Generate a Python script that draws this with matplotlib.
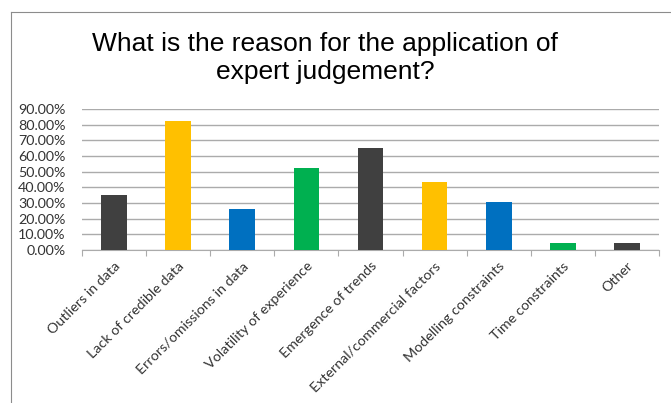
import matplotlib.pyplot as plt
from matplotlib.ticker import PercentFormatter, FixedLocator
import matplotlib.lines as mlines

categories = ["Outliers in data", "Lack of credible data", "Errors/omissions in data",
              "Volatility of experience", "Emergence of trends", "External/commercial factors",
              "Modelling constraints", "Time constraints", "Other"]
values = [0.348, 0.826, 0.261, 0.522, 0.652, 0.435, 0.304, 0.043, 0.043]
colors = ["#404040", "#FFC000", "#0070C0", "#00B050", "#404040",
          "#FFC000", "#0070C0", "#00B050", "#404040"]

fig = plt.figure(figsize=(6.71, 4.03), dpi=100)
ax = fig.add_axes([82/671, 1-250/403, 577/671, 141/403])

x = list(range(len(categories)))
ax.bar(x, values, width=0.4, color=colors, zorder=3)

ax.set_xlim(-0.5, len(categories) - 0.5)
ax.set_ylim(0, 0.9)
ax.set_yticks([i / 10 for i in range(10)])
ax.yaxis.set_major_formatter(PercentFormatter(1.0, decimals=2))
ax.grid(axis="y", color="#ABABAB", linewidth=1, zorder=0)
ax.tick_params(axis="y", length=0, labelsize=10.3, pad=12)
for lbl in ax.get_yticklabels():
    lbl.set_fontfamily("Lato")
    lbl.set_color("#333333")

# category boundary ticks, labels at centres
ax.xaxis.set_major_locator(FixedLocator([i - 0.5 for i in range(len(categories) + 1)]))
ax.xaxis.set_major_formatter(plt.NullFormatter())
ax.xaxis.set_minor_locator(FixedLocator(x))
ax.set_xticklabels(categories, minor=True, rotation=45, ha="right",
                   rotation_mode="anchor", fontsize=10.3, family="Lato", color="#333333")
ax.tick_params(axis="x", which="major", length=4, color="#ABABAB", direction="out")
ax.tick_params(axis="x", which="minor", length=0, pad=7)

for side in ["top", "right", "left"]:
    ax.spines[side].set_visible(False)
ax.spines["bottom"].set_color("#ABABAB")

fig.text(325/671, 1-58/403, "What is the reason for the application of\nexpert judgement?",
         ha="center", va="center", fontsize=19, family="Liberation Sans",
         linespacing=1.2)

# chart border (top and left edges visible)
fig.add_artist(mlines.Line2D([11/671, 11/671], [0, 1-12/403], color="#8C8C8C", lw=0.8))
fig.add_artist(mlines.Line2D([11/671, 1], [1-12/403, 1-12/403], color="#8C8C8C", lw=0.8))

fig.savefig("out.png", dpi=100)
